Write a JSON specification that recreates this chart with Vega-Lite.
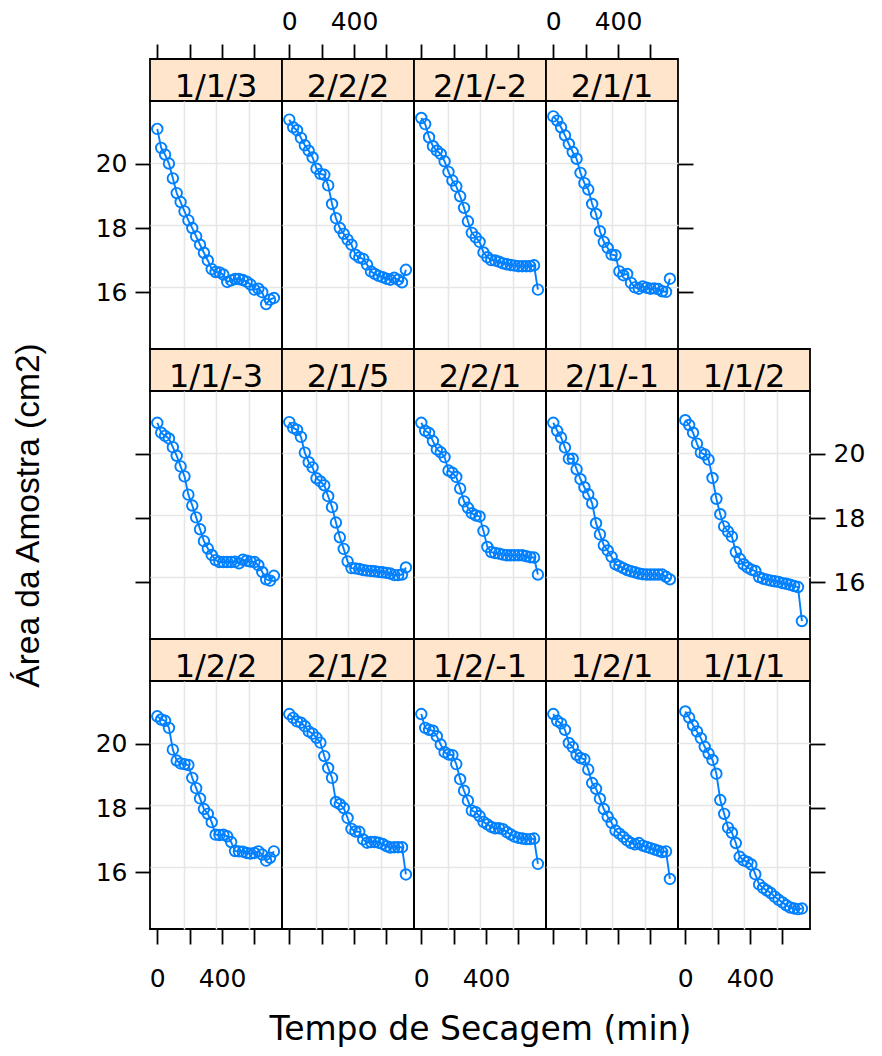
{
"$schema": "https://vega.github.io/schema/vega-lite/v6.json",
"padding": {"left": 10, "top": 8, "right": 5, "bottom": 5},
"background": "white",
"config": {
  "font": "DejaVu Sans",
  "view": {"stroke": "black", "strokeWidth": 1.8},
  "axis": {"domain": false, "grid": false, "tickColor": "black", "tickWidth": 1.8, "tickSize": 15, "labelFont": "DejaVu Sans", "labelFontSize": 25, "labelColor": "black", "labelFlush": false, "labelOverlap": false, "labelBound": false, "titleFont": "DejaVu Sans", "titleFontWeight": "normal", "titleColor": "black"},
  "line": {"color": "#0080ff", "strokeWidth": 1.9},
  "point": {"color": "#0080ff", "shape": "circle", "filled": false, "size": 110, "strokeWidth": 1.9, "opacity": 1}
},
"datasets": {
"paineis": [{"Amostra":"1/1/3"},{"Amostra":"2/2/2"},{"Amostra":"2/1/-2"},{"Amostra":"2/1/1"},{"Amostra":"1/1/-3"},{"Amostra":"2/1/5"},{"Amostra":"2/2/1"},{"Amostra":"2/1/-1"},{"Amostra":"1/1/2"},{"Amostra":"1/2/2"},{"Amostra":"2/1/2"},{"Amostra":"1/2/-1"},{"Amostra":"1/2/1"},{"Amostra":"1/1/1"}],
"medidas": [
{"Amostra":"1/1/3","Tempo":0,"Area":21.09},{"Amostra":"1/1/3","Tempo":24,"Area":20.50},{"Amostra":"1/1/3","Tempo":48,"Area":20.29},{"Amostra":"1/1/3","Tempo":72,"Area":20.01},{"Amostra":"1/1/3","Tempo":96,"Area":19.55},{"Amostra":"1/1/3","Tempo":120,"Area":19.09},{"Amostra":"1/1/3","Tempo":144,"Area":18.81},{"Amostra":"1/1/3","Tempo":168,"Area":18.52},{"Amostra":"1/1/3","Tempo":192,"Area":18.24},{"Amostra":"1/1/3","Tempo":216,"Area":18.00},{"Amostra":"1/1/3","Tempo":240,"Area":17.74},{"Amostra":"1/1/3","Tempo":264,"Area":17.48},{"Amostra":"1/1/3","Tempo":288,"Area":17.23},{"Amostra":"1/1/3","Tempo":312,"Area":16.99},{"Amostra":"1/1/3","Tempo":336,"Area":16.72},{"Amostra":"1/1/3","Tempo":360,"Area":16.63},{"Amostra":"1/1/3","Tempo":384,"Area":16.62},{"Amostra":"1/1/3","Tempo":408,"Area":16.55},{"Amostra":"1/1/3","Tempo":432,"Area":16.32},{"Amostra":"1/1/3","Tempo":456,"Area":16.37},{"Amostra":"1/1/3","Tempo":480,"Area":16.41},{"Amostra":"1/1/3","Tempo":504,"Area":16.41},{"Amostra":"1/1/3","Tempo":528,"Area":16.38},{"Amostra":"1/1/3","Tempo":552,"Area":16.33},{"Amostra":"1/1/3","Tempo":576,"Area":16.24},{"Amostra":"1/1/3","Tempo":600,"Area":16.08},{"Amostra":"1/1/3","Tempo":624,"Area":16.11},{"Amostra":"1/1/3","Tempo":648,"Area":16.00},{"Amostra":"1/1/3","Tempo":672,"Area":15.63},{"Amostra":"1/1/3","Tempo":696,"Area":15.77},{"Amostra":"1/1/3","Tempo":720,"Area":15.82},
{"Amostra":"2/2/2","Tempo":0,"Area":21.38},{"Amostra":"2/2/2","Tempo":24,"Area":21.14},{"Amostra":"2/2/2","Tempo":48,"Area":21.05},{"Amostra":"2/2/2","Tempo":72,"Area":20.81},{"Amostra":"2/2/2","Tempo":96,"Area":20.58},{"Amostra":"2/2/2","Tempo":120,"Area":20.41},{"Amostra":"2/2/2","Tempo":144,"Area":20.20},{"Amostra":"2/2/2","Tempo":168,"Area":19.85},{"Amostra":"2/2/2","Tempo":192,"Area":19.69},{"Amostra":"2/2/2","Tempo":216,"Area":19.66},{"Amostra":"2/2/2","Tempo":240,"Area":19.33},{"Amostra":"2/2/2","Tempo":264,"Area":18.75},{"Amostra":"2/2/2","Tempo":288,"Area":18.31},{"Amostra":"2/2/2","Tempo":312,"Area":18.00},{"Amostra":"2/2/2","Tempo":336,"Area":17.82},{"Amostra":"2/2/2","Tempo":360,"Area":17.64},{"Amostra":"2/2/2","Tempo":384,"Area":17.48},{"Amostra":"2/2/2","Tempo":408,"Area":17.17},{"Amostra":"2/2/2","Tempo":432,"Area":17.08},{"Amostra":"2/2/2","Tempo":456,"Area":17.04},{"Amostra":"2/2/2","Tempo":480,"Area":16.86},{"Amostra":"2/2/2","Tempo":504,"Area":16.65},{"Amostra":"2/2/2","Tempo":528,"Area":16.57},{"Amostra":"2/2/2","Tempo":552,"Area":16.51},{"Amostra":"2/2/2","Tempo":576,"Area":16.47},{"Amostra":"2/2/2","Tempo":600,"Area":16.42},{"Amostra":"2/2/2","Tempo":624,"Area":16.39},{"Amostra":"2/2/2","Tempo":648,"Area":16.45},{"Amostra":"2/2/2","Tempo":672,"Area":16.39},{"Amostra":"2/2/2","Tempo":696,"Area":16.31},{"Amostra":"2/2/2","Tempo":720,"Area":16.70},
{"Amostra":"2/1/-2","Tempo":0,"Area":21.43},{"Amostra":"2/1/-2","Tempo":24,"Area":21.24},{"Amostra":"2/1/-2","Tempo":48,"Area":20.83},{"Amostra":"2/1/-2","Tempo":72,"Area":20.55},{"Amostra":"2/1/-2","Tempo":96,"Area":20.41},{"Amostra":"2/1/-2","Tempo":120,"Area":20.31},{"Amostra":"2/1/-2","Tempo":144,"Area":20.08},{"Amostra":"2/1/-2","Tempo":168,"Area":19.75},{"Amostra":"2/1/-2","Tempo":192,"Area":19.48},{"Amostra":"2/1/-2","Tempo":216,"Area":19.30},{"Amostra":"2/1/-2","Tempo":240,"Area":18.99},{"Amostra":"2/1/-2","Tempo":264,"Area":18.63},{"Amostra":"2/1/-2","Tempo":288,"Area":18.21},{"Amostra":"2/1/-2","Tempo":312,"Area":17.85},{"Amostra":"2/1/-2","Tempo":336,"Area":17.71},{"Amostra":"2/1/-2","Tempo":360,"Area":17.57},{"Amostra":"2/1/-2","Tempo":384,"Area":17.24},{"Amostra":"2/1/-2","Tempo":408,"Area":17.09},{"Amostra":"2/1/-2","Tempo":432,"Area":17.00},{"Amostra":"2/1/-2","Tempo":456,"Area":16.99},{"Amostra":"2/1/-2","Tempo":480,"Area":16.95},{"Amostra":"2/1/-2","Tempo":504,"Area":16.90},{"Amostra":"2/1/-2","Tempo":528,"Area":16.87},{"Amostra":"2/1/-2","Tempo":552,"Area":16.85},{"Amostra":"2/1/-2","Tempo":576,"Area":16.83},{"Amostra":"2/1/-2","Tempo":600,"Area":16.81},{"Amostra":"2/1/-2","Tempo":624,"Area":16.81},{"Amostra":"2/1/-2","Tempo":648,"Area":16.81},{"Amostra":"2/1/-2","Tempo":672,"Area":16.81},{"Amostra":"2/1/-2","Tempo":696,"Area":16.84},{"Amostra":"2/1/-2","Tempo":720,"Area":16.08},
{"Amostra":"2/1/1","Tempo":0,"Area":21.48},{"Amostra":"2/1/1","Tempo":24,"Area":21.35},{"Amostra":"2/1/1","Tempo":48,"Area":21.14},{"Amostra":"2/1/1","Tempo":72,"Area":20.89},{"Amostra":"2/1/1","Tempo":96,"Area":20.62},{"Amostra":"2/1/1","Tempo":120,"Area":20.37},{"Amostra":"2/1/1","Tempo":144,"Area":20.16},{"Amostra":"2/1/1","Tempo":168,"Area":19.72},{"Amostra":"2/1/1","Tempo":192,"Area":19.40},{"Amostra":"2/1/1","Tempo":216,"Area":19.20},{"Amostra":"2/1/1","Tempo":240,"Area":18.75},{"Amostra":"2/1/1","Tempo":264,"Area":18.44},{"Amostra":"2/1/1","Tempo":288,"Area":17.90},{"Amostra":"2/1/1","Tempo":312,"Area":17.57},{"Amostra":"2/1/1","Tempo":336,"Area":17.38},{"Amostra":"2/1/1","Tempo":360,"Area":17.17},{"Amostra":"2/1/1","Tempo":384,"Area":17.15},{"Amostra":"2/1/1","Tempo":408,"Area":16.65},{"Amostra":"2/1/1","Tempo":432,"Area":16.53},{"Amostra":"2/1/1","Tempo":456,"Area":16.57},{"Amostra":"2/1/1","Tempo":480,"Area":16.29},{"Amostra":"2/1/1","Tempo":504,"Area":16.15},{"Amostra":"2/1/1","Tempo":528,"Area":16.11},{"Amostra":"2/1/1","Tempo":552,"Area":16.18},{"Amostra":"2/1/1","Tempo":576,"Area":16.14},{"Amostra":"2/1/1","Tempo":600,"Area":16.11},{"Amostra":"2/1/1","Tempo":624,"Area":16.12},{"Amostra":"2/1/1","Tempo":648,"Area":16.10},{"Amostra":"2/1/1","Tempo":672,"Area":16.03},{"Amostra":"2/1/1","Tempo":696,"Area":16.01},{"Amostra":"2/1/1","Tempo":720,"Area":16.42},
{"Amostra":"1/1/-3","Tempo":0,"Area":20.97},{"Amostra":"1/1/-3","Tempo":24,"Area":20.66},{"Amostra":"1/1/-3","Tempo":48,"Area":20.56},{"Amostra":"1/1/-3","Tempo":72,"Area":20.48},{"Amostra":"1/1/-3","Tempo":96,"Area":20.21},{"Amostra":"1/1/-3","Tempo":120,"Area":19.94},{"Amostra":"1/1/-3","Tempo":144,"Area":19.61},{"Amostra":"1/1/-3","Tempo":168,"Area":19.30},{"Amostra":"1/1/-3","Tempo":192,"Area":18.73},{"Amostra":"1/1/-3","Tempo":216,"Area":18.39},{"Amostra":"1/1/-3","Tempo":240,"Area":18.02},{"Amostra":"1/1/-3","Tempo":264,"Area":17.65},{"Amostra":"1/1/-3","Tempo":288,"Area":17.28},{"Amostra":"1/1/-3","Tempo":312,"Area":17.05},{"Amostra":"1/1/-3","Tempo":336,"Area":16.85},{"Amostra":"1/1/-3","Tempo":360,"Area":16.69},{"Amostra":"1/1/-3","Tempo":384,"Area":16.63},{"Amostra":"1/1/-3","Tempo":408,"Area":16.63},{"Amostra":"1/1/-3","Tempo":432,"Area":16.63},{"Amostra":"1/1/-3","Tempo":456,"Area":16.63},{"Amostra":"1/1/-3","Tempo":480,"Area":16.64},{"Amostra":"1/1/-3","Tempo":504,"Area":16.59},{"Amostra":"1/1/-3","Tempo":528,"Area":16.70},{"Amostra":"1/1/-3","Tempo":552,"Area":16.67},{"Amostra":"1/1/-3","Tempo":576,"Area":16.64},{"Amostra":"1/1/-3","Tempo":600,"Area":16.63},{"Amostra":"1/1/-3","Tempo":624,"Area":16.53},{"Amostra":"1/1/-3","Tempo":648,"Area":16.32},{"Amostra":"1/1/-3","Tempo":672,"Area":16.09},{"Amostra":"1/1/-3","Tempo":696,"Area":16.05},{"Amostra":"1/1/-3","Tempo":720,"Area":16.20},
{"Amostra":"2/1/5","Tempo":0,"Area":20.99},{"Amostra":"2/1/5","Tempo":24,"Area":20.81},{"Amostra":"2/1/5","Tempo":48,"Area":20.75},{"Amostra":"2/1/5","Tempo":72,"Area":20.53},{"Amostra":"2/1/5","Tempo":96,"Area":20.04},{"Amostra":"2/1/5","Tempo":120,"Area":19.74},{"Amostra":"2/1/5","Tempo":144,"Area":19.58},{"Amostra":"2/1/5","Tempo":168,"Area":19.24},{"Amostra":"2/1/5","Tempo":192,"Area":19.14},{"Amostra":"2/1/5","Tempo":216,"Area":19.02},{"Amostra":"2/1/5","Tempo":240,"Area":18.68},{"Amostra":"2/1/5","Tempo":264,"Area":18.34},{"Amostra":"2/1/5","Tempo":288,"Area":17.86},{"Amostra":"2/1/5","Tempo":312,"Area":17.40},{"Amostra":"2/1/5","Tempo":336,"Area":17.04},{"Amostra":"2/1/5","Tempo":360,"Area":16.65},{"Amostra":"2/1/5","Tempo":384,"Area":16.44},{"Amostra":"2/1/5","Tempo":408,"Area":16.43},{"Amostra":"2/1/5","Tempo":432,"Area":16.41},{"Amostra":"2/1/5","Tempo":456,"Area":16.38},{"Amostra":"2/1/5","Tempo":480,"Area":16.36},{"Amostra":"2/1/5","Tempo":504,"Area":16.35},{"Amostra":"2/1/5","Tempo":528,"Area":16.34},{"Amostra":"2/1/5","Tempo":552,"Area":16.32},{"Amostra":"2/1/5","Tempo":576,"Area":16.31},{"Amostra":"2/1/5","Tempo":600,"Area":16.29},{"Amostra":"2/1/5","Tempo":624,"Area":16.27},{"Amostra":"2/1/5","Tempo":648,"Area":16.22},{"Amostra":"2/1/5","Tempo":672,"Area":16.22},{"Amostra":"2/1/5","Tempo":696,"Area":16.24},{"Amostra":"2/1/5","Tempo":720,"Area":16.46},
{"Amostra":"2/2/1","Tempo":0,"Area":20.97},{"Amostra":"2/2/1","Tempo":24,"Area":20.72},{"Amostra":"2/2/1","Tempo":48,"Area":20.65},{"Amostra":"2/2/1","Tempo":72,"Area":20.40},{"Amostra":"2/2/1","Tempo":96,"Area":20.14},{"Amostra":"2/2/1","Tempo":120,"Area":20.05},{"Amostra":"2/2/1","Tempo":144,"Area":19.90},{"Amostra":"2/2/1","Tempo":168,"Area":19.48},{"Amostra":"2/2/1","Tempo":192,"Area":19.41},{"Amostra":"2/2/1","Tempo":216,"Area":19.28},{"Amostra":"2/2/1","Tempo":240,"Area":18.92},{"Amostra":"2/2/1","Tempo":264,"Area":18.52},{"Amostra":"2/2/1","Tempo":288,"Area":18.32},{"Amostra":"2/2/1","Tempo":312,"Area":18.15},{"Amostra":"2/2/1","Tempo":336,"Area":18.08},{"Amostra":"2/2/1","Tempo":360,"Area":18.05},{"Amostra":"2/2/1","Tempo":384,"Area":17.60},{"Amostra":"2/2/1","Tempo":408,"Area":17.10},{"Amostra":"2/2/1","Tempo":432,"Area":16.94},{"Amostra":"2/2/1","Tempo":456,"Area":16.91},{"Amostra":"2/2/1","Tempo":480,"Area":16.89},{"Amostra":"2/2/1","Tempo":504,"Area":16.86},{"Amostra":"2/2/1","Tempo":528,"Area":16.84},{"Amostra":"2/2/1","Tempo":552,"Area":16.84},{"Amostra":"2/2/1","Tempo":576,"Area":16.84},{"Amostra":"2/2/1","Tempo":600,"Area":16.84},{"Amostra":"2/2/1","Tempo":624,"Area":16.84},{"Amostra":"2/2/1","Tempo":648,"Area":16.81},{"Amostra":"2/2/1","Tempo":672,"Area":16.78},{"Amostra":"2/2/1","Tempo":696,"Area":16.77},{"Amostra":"2/2/1","Tempo":720,"Area":16.24},
{"Amostra":"2/1/-1","Tempo":0,"Area":20.97},{"Amostra":"2/1/-1","Tempo":24,"Area":20.72},{"Amostra":"2/1/-1","Tempo":48,"Area":20.51},{"Amostra":"2/1/-1","Tempo":72,"Area":20.20},{"Amostra":"2/1/-1","Tempo":96,"Area":19.85},{"Amostra":"2/1/-1","Tempo":120,"Area":19.85},{"Amostra":"2/1/-1","Tempo":144,"Area":19.52},{"Amostra":"2/1/-1","Tempo":168,"Area":19.21},{"Amostra":"2/1/-1","Tempo":192,"Area":18.96},{"Amostra":"2/1/-1","Tempo":216,"Area":18.74},{"Amostra":"2/1/-1","Tempo":240,"Area":18.46},{"Amostra":"2/1/-1","Tempo":264,"Area":17.84},{"Amostra":"2/1/-1","Tempo":288,"Area":17.49},{"Amostra":"2/1/-1","Tempo":312,"Area":17.15},{"Amostra":"2/1/-1","Tempo":336,"Area":16.99},{"Amostra":"2/1/-1","Tempo":360,"Area":16.79},{"Amostra":"2/1/-1","Tempo":384,"Area":16.56},{"Amostra":"2/1/-1","Tempo":408,"Area":16.50},{"Amostra":"2/1/-1","Tempo":432,"Area":16.44},{"Amostra":"2/1/-1","Tempo":456,"Area":16.38},{"Amostra":"2/1/-1","Tempo":480,"Area":16.34},{"Amostra":"2/1/-1","Tempo":504,"Area":16.31},{"Amostra":"2/1/-1","Tempo":528,"Area":16.27},{"Amostra":"2/1/-1","Tempo":552,"Area":16.25},{"Amostra":"2/1/-1","Tempo":576,"Area":16.24},{"Amostra":"2/1/-1","Tempo":600,"Area":16.24},{"Amostra":"2/1/-1","Tempo":624,"Area":16.24},{"Amostra":"2/1/-1","Tempo":648,"Area":16.24},{"Amostra":"2/1/-1","Tempo":672,"Area":16.24},{"Amostra":"2/1/-1","Tempo":696,"Area":16.17},{"Amostra":"2/1/-1","Tempo":720,"Area":16.09},
{"Amostra":"1/1/2","Tempo":0,"Area":21.05},{"Amostra":"1/1/2","Tempo":24,"Area":20.90},{"Amostra":"1/1/2","Tempo":48,"Area":20.66},{"Amostra":"1/1/2","Tempo":72,"Area":20.32},{"Amostra":"1/1/2","Tempo":96,"Area":20.04},{"Amostra":"1/1/2","Tempo":120,"Area":19.98},{"Amostra":"1/1/2","Tempo":144,"Area":19.82},{"Amostra":"1/1/2","Tempo":168,"Area":19.25},{"Amostra":"1/1/2","Tempo":192,"Area":18.60},{"Amostra":"1/1/2","Tempo":216,"Area":18.12},{"Amostra":"1/1/2","Tempo":240,"Area":17.74},{"Amostra":"1/1/2","Tempo":264,"Area":17.58},{"Amostra":"1/1/2","Tempo":288,"Area":17.42},{"Amostra":"1/1/2","Tempo":312,"Area":16.94},{"Amostra":"1/1/2","Tempo":336,"Area":16.73},{"Amostra":"1/1/2","Tempo":360,"Area":16.56},{"Amostra":"1/1/2","Tempo":384,"Area":16.46},{"Amostra":"1/1/2","Tempo":408,"Area":16.39},{"Amostra":"1/1/2","Tempo":432,"Area":16.35},{"Amostra":"1/1/2","Tempo":456,"Area":16.16},{"Amostra":"1/1/2","Tempo":480,"Area":16.11},{"Amostra":"1/1/2","Tempo":504,"Area":16.08},{"Amostra":"1/1/2","Tempo":528,"Area":16.05},{"Amostra":"1/1/2","Tempo":552,"Area":16.03},{"Amostra":"1/1/2","Tempo":576,"Area":16.01},{"Amostra":"1/1/2","Tempo":600,"Area":15.97},{"Amostra":"1/1/2","Tempo":624,"Area":15.95},{"Amostra":"1/1/2","Tempo":648,"Area":15.92},{"Amostra":"1/1/2","Tempo":672,"Area":15.88},{"Amostra":"1/1/2","Tempo":696,"Area":15.85},{"Amostra":"1/1/2","Tempo":720,"Area":14.79},
{"Amostra":"1/2/2","Tempo":0,"Area":20.86},{"Amostra":"1/2/2","Tempo":24,"Area":20.76},{"Amostra":"1/2/2","Tempo":48,"Area":20.72},{"Amostra":"1/2/2","Tempo":72,"Area":20.50},{"Amostra":"1/2/2","Tempo":96,"Area":19.82},{"Amostra":"1/2/2","Tempo":120,"Area":19.48},{"Amostra":"1/2/2","Tempo":144,"Area":19.39},{"Amostra":"1/2/2","Tempo":168,"Area":19.37},{"Amostra":"1/2/2","Tempo":192,"Area":19.34},{"Amostra":"1/2/2","Tempo":216,"Area":18.94},{"Amostra":"1/2/2","Tempo":240,"Area":18.62},{"Amostra":"1/2/2","Tempo":264,"Area":18.30},{"Amostra":"1/2/2","Tempo":288,"Area":17.97},{"Amostra":"1/2/2","Tempo":312,"Area":17.82},{"Amostra":"1/2/2","Tempo":336,"Area":17.56},{"Amostra":"1/2/2","Tempo":360,"Area":17.17},{"Amostra":"1/2/2","Tempo":384,"Area":17.16},{"Amostra":"1/2/2","Tempo":408,"Area":17.17},{"Amostra":"1/2/2","Tempo":432,"Area":17.12},{"Amostra":"1/2/2","Tempo":456,"Area":16.94},{"Amostra":"1/2/2","Tempo":480,"Area":16.66},{"Amostra":"1/2/2","Tempo":504,"Area":16.65},{"Amostra":"1/2/2","Tempo":528,"Area":16.64},{"Amostra":"1/2/2","Tempo":552,"Area":16.60},{"Amostra":"1/2/2","Tempo":576,"Area":16.58},{"Amostra":"1/2/2","Tempo":600,"Area":16.60},{"Amostra":"1/2/2","Tempo":624,"Area":16.65},{"Amostra":"1/2/2","Tempo":648,"Area":16.55},{"Amostra":"1/2/2","Tempo":672,"Area":16.36},{"Amostra":"1/2/2","Tempo":696,"Area":16.45},{"Amostra":"1/2/2","Tempo":720,"Area":16.65},
{"Amostra":"2/1/2","Tempo":0,"Area":20.93},{"Amostra":"2/1/2","Tempo":24,"Area":20.81},{"Amostra":"2/1/2","Tempo":48,"Area":20.70},{"Amostra":"2/1/2","Tempo":72,"Area":20.66},{"Amostra":"2/1/2","Tempo":96,"Area":20.55},{"Amostra":"2/1/2","Tempo":120,"Area":20.39},{"Amostra":"2/1/2","Tempo":144,"Area":20.32},{"Amostra":"2/1/2","Tempo":168,"Area":20.19},{"Amostra":"2/1/2","Tempo":192,"Area":20.04},{"Amostra":"2/1/2","Tempo":216,"Area":19.62},{"Amostra":"2/1/2","Tempo":240,"Area":19.25},{"Amostra":"2/1/2","Tempo":264,"Area":18.94},{"Amostra":"2/1/2","Tempo":288,"Area":18.19},{"Amostra":"2/1/2","Tempo":312,"Area":18.12},{"Amostra":"2/1/2","Tempo":336,"Area":18.00},{"Amostra":"2/1/2","Tempo":360,"Area":17.69},{"Amostra":"2/1/2","Tempo":384,"Area":17.35},{"Amostra":"2/1/2","Tempo":408,"Area":17.27},{"Amostra":"2/1/2","Tempo":432,"Area":17.26},{"Amostra":"2/1/2","Tempo":456,"Area":17.02},{"Amostra":"2/1/2","Tempo":480,"Area":16.92},{"Amostra":"2/1/2","Tempo":504,"Area":16.94},{"Amostra":"2/1/2","Tempo":528,"Area":16.94},{"Amostra":"2/1/2","Tempo":552,"Area":16.92},{"Amostra":"2/1/2","Tempo":576,"Area":16.88},{"Amostra":"2/1/2","Tempo":600,"Area":16.81},{"Amostra":"2/1/2","Tempo":624,"Area":16.77},{"Amostra":"2/1/2","Tempo":648,"Area":16.78},{"Amostra":"2/1/2","Tempo":672,"Area":16.78},{"Amostra":"2/1/2","Tempo":696,"Area":16.78},{"Amostra":"2/1/2","Tempo":720,"Area":15.93},
{"Amostra":"1/2/-1","Tempo":0,"Area":20.93},{"Amostra":"1/2/-1","Tempo":24,"Area":20.50},{"Amostra":"1/2/-1","Tempo":48,"Area":20.44},{"Amostra":"1/2/-1","Tempo":72,"Area":20.41},{"Amostra":"1/2/-1","Tempo":96,"Area":20.24},{"Amostra":"1/2/-1","Tempo":120,"Area":19.98},{"Amostra":"1/2/-1","Tempo":144,"Area":19.74},{"Amostra":"1/2/-1","Tempo":168,"Area":19.67},{"Amostra":"1/2/-1","Tempo":192,"Area":19.65},{"Amostra":"1/2/-1","Tempo":216,"Area":19.37},{"Amostra":"1/2/-1","Tempo":240,"Area":18.90},{"Amostra":"1/2/-1","Tempo":264,"Area":18.54},{"Amostra":"1/2/-1","Tempo":288,"Area":18.23},{"Amostra":"1/2/-1","Tempo":312,"Area":17.92},{"Amostra":"1/2/-1","Tempo":336,"Area":17.87},{"Amostra":"1/2/-1","Tempo":360,"Area":17.75},{"Amostra":"1/2/-1","Tempo":384,"Area":17.57},{"Amostra":"1/2/-1","Tempo":408,"Area":17.49},{"Amostra":"1/2/-1","Tempo":432,"Area":17.41},{"Amostra":"1/2/-1","Tempo":456,"Area":17.37},{"Amostra":"1/2/-1","Tempo":480,"Area":17.37},{"Amostra":"1/2/-1","Tempo":504,"Area":17.34},{"Amostra":"1/2/-1","Tempo":528,"Area":17.25},{"Amostra":"1/2/-1","Tempo":552,"Area":17.18},{"Amostra":"1/2/-1","Tempo":576,"Area":17.11},{"Amostra":"1/2/-1","Tempo":600,"Area":17.07},{"Amostra":"1/2/-1","Tempo":624,"Area":17.05},{"Amostra":"1/2/-1","Tempo":648,"Area":17.03},{"Amostra":"1/2/-1","Tempo":672,"Area":17.03},{"Amostra":"1/2/-1","Tempo":696,"Area":17.05},{"Amostra":"1/2/-1","Tempo":720,"Area":16.26},
{"Amostra":"1/2/1","Tempo":0,"Area":20.93},{"Amostra":"1/2/1","Tempo":24,"Area":20.72},{"Amostra":"1/2/1","Tempo":48,"Area":20.64},{"Amostra":"1/2/1","Tempo":72,"Area":20.44},{"Amostra":"1/2/1","Tempo":96,"Area":20.03},{"Amostra":"1/2/1","Tempo":120,"Area":19.90},{"Amostra":"1/2/1","Tempo":144,"Area":19.66},{"Amostra":"1/2/1","Tempo":168,"Area":19.56},{"Amostra":"1/2/1","Tempo":192,"Area":19.52},{"Amostra":"1/2/1","Tempo":216,"Area":19.20},{"Amostra":"1/2/1","Tempo":240,"Area":18.78},{"Amostra":"1/2/1","Tempo":264,"Area":18.60},{"Amostra":"1/2/1","Tempo":288,"Area":18.29},{"Amostra":"1/2/1","Tempo":312,"Area":17.97},{"Amostra":"1/2/1","Tempo":336,"Area":17.73},{"Amostra":"1/2/1","Tempo":360,"Area":17.54},{"Amostra":"1/2/1","Tempo":384,"Area":17.30},{"Amostra":"1/2/1","Tempo":408,"Area":17.20},{"Amostra":"1/2/1","Tempo":432,"Area":17.10},{"Amostra":"1/2/1","Tempo":456,"Area":16.99},{"Amostra":"1/2/1","Tempo":480,"Area":16.91},{"Amostra":"1/2/1","Tempo":504,"Area":16.87},{"Amostra":"1/2/1","Tempo":528,"Area":16.91},{"Amostra":"1/2/1","Tempo":552,"Area":16.83},{"Amostra":"1/2/1","Tempo":576,"Area":16.79},{"Amostra":"1/2/1","Tempo":600,"Area":16.75},{"Amostra":"1/2/1","Tempo":624,"Area":16.71},{"Amostra":"1/2/1","Tempo":648,"Area":16.67},{"Amostra":"1/2/1","Tempo":672,"Area":16.63},{"Amostra":"1/2/1","Tempo":696,"Area":16.65},{"Amostra":"1/2/1","Tempo":720,"Area":15.79},
{"Amostra":"1/1/1","Tempo":0,"Area":21.01},{"Amostra":"1/1/1","Tempo":24,"Area":20.82},{"Amostra":"1/1/1","Tempo":48,"Area":20.58},{"Amostra":"1/1/1","Tempo":72,"Area":20.39},{"Amostra":"1/1/1","Tempo":96,"Area":20.18},{"Amostra":"1/1/1","Tempo":120,"Area":19.91},{"Amostra":"1/1/1","Tempo":144,"Area":19.70},{"Amostra":"1/1/1","Tempo":168,"Area":19.50},{"Amostra":"1/1/1","Tempo":192,"Area":19.07},{"Amostra":"1/1/1","Tempo":216,"Area":18.25},{"Amostra":"1/1/1","Tempo":240,"Area":17.82},{"Amostra":"1/1/1","Tempo":264,"Area":17.39},{"Amostra":"1/1/1","Tempo":288,"Area":17.23},{"Amostra":"1/1/1","Tempo":312,"Area":16.91},{"Amostra":"1/1/1","Tempo":336,"Area":16.48},{"Amostra":"1/1/1","Tempo":360,"Area":16.37},{"Amostra":"1/1/1","Tempo":384,"Area":16.32},{"Amostra":"1/1/1","Tempo":408,"Area":16.24},{"Amostra":"1/1/1","Tempo":432,"Area":15.94},{"Amostra":"1/1/1","Tempo":456,"Area":15.62},{"Amostra":"1/1/1","Tempo":480,"Area":15.51},{"Amostra":"1/1/1","Tempo":504,"Area":15.43},{"Amostra":"1/1/1","Tempo":528,"Area":15.35},{"Amostra":"1/1/1","Tempo":552,"Area":15.24},{"Amostra":"1/1/1","Tempo":576,"Area":15.14},{"Amostra":"1/1/1","Tempo":600,"Area":15.06},{"Amostra":"1/1/1","Tempo":624,"Area":14.97},{"Amostra":"1/1/1","Tempo":648,"Area":14.90},{"Amostra":"1/1/1","Tempo":672,"Area":14.87},{"Amostra":"1/1/1","Tempo":696,"Area":14.85},{"Amostra":"1/1/1","Tempo":720,"Area":14.87}
]
},
"data": {"name": "medidas"},
"columns": 5,
"spacing": 0,
"bounds": "flush",
"concat": [
 {"data":{"name":"paineis"},"transform":[{"filter":{"field":"Amostra","equal":"1/1/3"}}],"width":132,"height":42,"view":{"fill":"#ffe5cc","stroke":"black","strokeWidth":1.8},"mark":{"type":"text","font":"DejaVu Sans","fontSize":32,"baseline":"middle","dy":7,"color":"black"},"encoding":{"text":{"field":"Amostra","type":"nominal"}}},
 {"data":{"name":"paineis"},"transform":[{"filter":{"field":"Amostra","equal":"2/2/2"}}],"width":132,"height":42,"view":{"fill":"#ffe5cc","stroke":"black","strokeWidth":1.8},"mark":{"type":"text","font":"DejaVu Sans","fontSize":32,"baseline":"middle","dy":7,"color":"black"},"encoding":{"text":{"field":"Amostra","type":"nominal"}}},
 {"data":{"name":"paineis"},"transform":[{"filter":{"field":"Amostra","equal":"2/1/-2"}}],"width":132,"height":42,"view":{"fill":"#ffe5cc","stroke":"black","strokeWidth":1.8},"mark":{"type":"text","font":"DejaVu Sans","fontSize":32,"baseline":"middle","dy":7,"color":"black"},"encoding":{"text":{"field":"Amostra","type":"nominal"}}},
 {"data":{"name":"paineis"},"transform":[{"filter":{"field":"Amostra","equal":"2/1/1"}}],"width":132,"height":42,"view":{"fill":"#ffe5cc","stroke":"black","strokeWidth":1.8},"mark":{"type":"text","font":"DejaVu Sans","fontSize":32,"baseline":"middle","dy":7,"color":"black"},"encoding":{"text":{"field":"Amostra","type":"nominal"}}},
 {"data":{"name":"paineis"},"transform":[{"filter":"false"}],"width":132,"height":42,"view":{"stroke":null},"mark":{"type":"text"},"encoding":{"text":{"field":"Amostra","type":"nominal"}}},

 {"width":132,"height":248,"transform":[{"filter":{"field":"Amostra","equal":"1/1/3"}}],
  "layer":[
   {"mark":{"type":"line"},"encoding":{"x":{"field":"Tempo","type":"quantitative","scale":{"domain":[-45,770],"nice":false,"zero":false},"axis":{"orient":"bottom","grid":true,"values":[165,365,565],"ticks":false,"labels":false,"domain":false,"title":null,"gridColor":"#e6e6e6","gridWidth":1.6}},"y":{"field":"Area","type":"quantitative","scale":{"domain":[14.23,21.96],"nice":false,"zero":false},"axis":{"orient":"left","grid":true,"values":[16.15,18.08,20.02],"ticks":false,"labels":false,"domain":false,"title":null,"gridColor":"#e6e6e6","gridWidth":1.6}}}},
   {"mark":{"type":"point"},"encoding":{"x":{"field":"Tempo","type":"quantitative","scale":{"domain":[-45,770],"nice":false,"zero":false},"axis":{"orient":"top","offset":42,"values":[0,200,400,600],"labels":false,"title":null}},"y":{"field":"Area","type":"quantitative","scale":{"domain":[14.23,21.96],"nice":false,"zero":false},"axis":{"orient":"left","values":[16,18,20],"labelPadding":8,"title":null}}}}
  ],"resolve":{"axis":{"x":"independent","y":"independent"}}},
 {"width":132,"height":248,"transform":[{"filter":{"field":"Amostra","equal":"2/2/2"}}],
  "layer":[
   {"mark":{"type":"line"},"encoding":{"x":{"field":"Tempo","type":"quantitative","scale":{"domain":[-45,770],"nice":false,"zero":false},"axis":{"orient":"bottom","grid":true,"values":[165,365,565],"ticks":false,"labels":false,"domain":false,"title":null,"gridColor":"#e6e6e6","gridWidth":1.6}},"y":{"field":"Area","type":"quantitative","scale":{"domain":[14.23,21.96],"nice":false,"zero":false},"axis":{"orient":"left","grid":true,"values":[16.15,18.08,20.02],"ticks":false,"labels":false,"domain":false,"title":null,"gridColor":"#e6e6e6","gridWidth":1.6}}}},
   {"mark":{"type":"point"},"encoding":{"x":{"field":"Tempo","type":"quantitative","scale":{"domain":[-45,770],"nice":false,"zero":false},"axis":{"orient":"top","offset":42,"values":[0,200,400,600],"labelExpr":"datum.value % 400 === 0 ? datum.label : ''","labelPadding":10,"title":null}},"y":{"field":"Area","type":"quantitative","scale":{"domain":[14.23,21.96],"nice":false,"zero":false},"axis":null}}}
  ],"resolve":{"axis":{"x":"independent","y":"independent"}}},
 {"width":132,"height":248,"transform":[{"filter":{"field":"Amostra","equal":"2/1/-2"}}],
  "layer":[
   {"mark":{"type":"line"},"encoding":{"x":{"field":"Tempo","type":"quantitative","scale":{"domain":[-45,770],"nice":false,"zero":false},"axis":{"orient":"bottom","grid":true,"values":[165,365,565],"ticks":false,"labels":false,"domain":false,"title":null,"gridColor":"#e6e6e6","gridWidth":1.6}},"y":{"field":"Area","type":"quantitative","scale":{"domain":[14.23,21.96],"nice":false,"zero":false},"axis":{"orient":"left","grid":true,"values":[16.15,18.08,20.02],"ticks":false,"labels":false,"domain":false,"title":null,"gridColor":"#e6e6e6","gridWidth":1.6}}}},
   {"mark":{"type":"point"},"encoding":{"x":{"field":"Tempo","type":"quantitative","scale":{"domain":[-45,770],"nice":false,"zero":false},"axis":{"orient":"top","offset":42,"values":[0,200,400,600],"labels":false,"title":null}},"y":{"field":"Area","type":"quantitative","scale":{"domain":[14.23,21.96],"nice":false,"zero":false},"axis":null}}}
  ],"resolve":{"axis":{"x":"independent","y":"independent"}}},
 {"width":132,"height":248,"transform":[{"filter":{"field":"Amostra","equal":"2/1/1"}}],
  "layer":[
   {"mark":{"type":"line"},"encoding":{"x":{"field":"Tempo","type":"quantitative","scale":{"domain":[-45,770],"nice":false,"zero":false},"axis":{"orient":"bottom","grid":true,"values":[165,365,565],"ticks":false,"labels":false,"domain":false,"title":null,"gridColor":"#e6e6e6","gridWidth":1.6}},"y":{"field":"Area","type":"quantitative","scale":{"domain":[14.23,21.96],"nice":false,"zero":false},"axis":{"orient":"left","grid":true,"values":[16.15,18.08,20.02],"ticks":false,"labels":false,"domain":false,"title":null,"gridColor":"#e6e6e6","gridWidth":1.6}}}},
   {"mark":{"type":"point"},"encoding":{"x":{"field":"Tempo","type":"quantitative","scale":{"domain":[-45,770],"nice":false,"zero":false},"axis":{"orient":"top","offset":42,"values":[0,200,400,600],"labelExpr":"datum.value % 400 === 0 ? datum.label : ''","labelPadding":10,"title":null}},"y":{"field":"Area","type":"quantitative","scale":{"domain":[14.23,21.96],"nice":false,"zero":false},"axis":{"orient":"right","values":[16,18,20],"labels":false,"title":null}}}}
  ],"resolve":{"axis":{"x":"independent","y":"independent"}}},
 {"data":{"name":"paineis"},"transform":[{"filter":"false"}],"width":132,"height":248,"view":{"stroke":null},"mark":{"type":"text"},"encoding":{"text":{"field":"Amostra","type":"nominal"}}},

 {"data":{"name":"paineis"},"transform":[{"filter":{"field":"Amostra","equal":"1/1/-3"}}],"width":132,"height":42,"view":{"fill":"#ffe5cc","stroke":"black","strokeWidth":1.8},"mark":{"type":"text","font":"DejaVu Sans","fontSize":32,"baseline":"middle","dy":7,"color":"black"},"encoding":{"text":{"field":"Amostra","type":"nominal"}}},
 {"data":{"name":"paineis"},"transform":[{"filter":{"field":"Amostra","equal":"2/1/5"}}],"width":132,"height":42,"view":{"fill":"#ffe5cc","stroke":"black","strokeWidth":1.8},"mark":{"type":"text","font":"DejaVu Sans","fontSize":32,"baseline":"middle","dy":7,"color":"black"},"encoding":{"text":{"field":"Amostra","type":"nominal"}}},
 {"data":{"name":"paineis"},"transform":[{"filter":{"field":"Amostra","equal":"2/2/1"}}],"width":132,"height":42,"view":{"fill":"#ffe5cc","stroke":"black","strokeWidth":1.8},"mark":{"type":"text","font":"DejaVu Sans","fontSize":32,"baseline":"middle","dy":7,"color":"black"},"encoding":{"text":{"field":"Amostra","type":"nominal"}}},
 {"data":{"name":"paineis"},"transform":[{"filter":{"field":"Amostra","equal":"2/1/-1"}}],"width":132,"height":42,"view":{"fill":"#ffe5cc","stroke":"black","strokeWidth":1.8},"mark":{"type":"text","font":"DejaVu Sans","fontSize":32,"baseline":"middle","dy":7,"color":"black"},"encoding":{"text":{"field":"Amostra","type":"nominal"}}},
 {"data":{"name":"paineis"},"transform":[{"filter":{"field":"Amostra","equal":"1/1/2"}}],"width":132,"height":42,"view":{"fill":"#ffe5cc","stroke":"black","strokeWidth":1.8},"mark":{"type":"text","font":"DejaVu Sans","fontSize":32,"baseline":"middle","dy":7,"color":"black"},"encoding":{"text":{"field":"Amostra","type":"nominal"}}},

 {"width":132,"height":248,"transform":[{"filter":{"field":"Amostra","equal":"1/1/-3"}}],
  "layer":[
   {"mark":{"type":"line"},"encoding":{"x":{"field":"Tempo","type":"quantitative","scale":{"domain":[-45,770],"nice":false,"zero":false},"axis":{"orient":"bottom","grid":true,"values":[165,365,565],"ticks":false,"labels":false,"domain":false,"title":null,"gridColor":"#e6e6e6","gridWidth":1.6}},"y":{"field":"Area","type":"quantitative","scale":{"domain":[14.23,21.96],"nice":false,"zero":false},"axis":{"orient":"left","grid":true,"values":[16.15,18.08,20.02],"ticks":false,"labels":false,"domain":false,"title":null,"gridColor":"#e6e6e6","gridWidth":1.6}}}},
   {"mark":{"type":"point"},"encoding":{"x":{"field":"Tempo","type":"quantitative","scale":{"domain":[-45,770],"nice":false,"zero":false},"axis":null},"y":{"field":"Area","type":"quantitative","scale":{"domain":[14.23,21.96],"nice":false,"zero":false},"axis":{"orient":"left","values":[16,18,20],"labels":false,"title":"Área da Amostra (cm2)","titleFont":"Liberation Sans","titleFontSize":33.5,"titlePadding":89}}}}
  ],"resolve":{"axis":{"x":"independent","y":"independent"}}},
 {"width":132,"height":248,"transform":[{"filter":{"field":"Amostra","equal":"2/1/5"}}],
  "layer":[
   {"mark":{"type":"line"},"encoding":{"x":{"field":"Tempo","type":"quantitative","scale":{"domain":[-45,770],"nice":false,"zero":false},"axis":{"orient":"bottom","grid":true,"values":[165,365,565],"ticks":false,"labels":false,"domain":false,"title":null,"gridColor":"#e6e6e6","gridWidth":1.6}},"y":{"field":"Area","type":"quantitative","scale":{"domain":[14.23,21.96],"nice":false,"zero":false},"axis":{"orient":"left","grid":true,"values":[16.15,18.08,20.02],"ticks":false,"labels":false,"domain":false,"title":null,"gridColor":"#e6e6e6","gridWidth":1.6}}}},
   {"mark":{"type":"point"},"encoding":{"x":{"field":"Tempo","type":"quantitative","scale":{"domain":[-45,770],"nice":false,"zero":false},"axis":null},"y":{"field":"Area","type":"quantitative","scale":{"domain":[14.23,21.96],"nice":false,"zero":false},"axis":null}}}
  ],"resolve":{"axis":{"x":"independent","y":"independent"}}},
 {"width":132,"height":248,"transform":[{"filter":{"field":"Amostra","equal":"2/2/1"}}],
  "layer":[
   {"mark":{"type":"line"},"encoding":{"x":{"field":"Tempo","type":"quantitative","scale":{"domain":[-45,770],"nice":false,"zero":false},"axis":{"orient":"bottom","grid":true,"values":[165,365,565],"ticks":false,"labels":false,"domain":false,"title":null,"gridColor":"#e6e6e6","gridWidth":1.6}},"y":{"field":"Area","type":"quantitative","scale":{"domain":[14.23,21.96],"nice":false,"zero":false},"axis":{"orient":"left","grid":true,"values":[16.15,18.08,20.02],"ticks":false,"labels":false,"domain":false,"title":null,"gridColor":"#e6e6e6","gridWidth":1.6}}}},
   {"mark":{"type":"point"},"encoding":{"x":{"field":"Tempo","type":"quantitative","scale":{"domain":[-45,770],"nice":false,"zero":false},"axis":null},"y":{"field":"Area","type":"quantitative","scale":{"domain":[14.23,21.96],"nice":false,"zero":false},"axis":null}}}
  ],"resolve":{"axis":{"x":"independent","y":"independent"}}},
 {"width":132,"height":248,"transform":[{"filter":{"field":"Amostra","equal":"2/1/-1"}}],
  "layer":[
   {"mark":{"type":"line"},"encoding":{"x":{"field":"Tempo","type":"quantitative","scale":{"domain":[-45,770],"nice":false,"zero":false},"axis":{"orient":"bottom","grid":true,"values":[165,365,565],"ticks":false,"labels":false,"domain":false,"title":null,"gridColor":"#e6e6e6","gridWidth":1.6}},"y":{"field":"Area","type":"quantitative","scale":{"domain":[14.23,21.96],"nice":false,"zero":false},"axis":{"orient":"left","grid":true,"values":[16.15,18.08,20.02],"ticks":false,"labels":false,"domain":false,"title":null,"gridColor":"#e6e6e6","gridWidth":1.6}}}},
   {"mark":{"type":"point"},"encoding":{"x":{"field":"Tempo","type":"quantitative","scale":{"domain":[-45,770],"nice":false,"zero":false},"axis":null},"y":{"field":"Area","type":"quantitative","scale":{"domain":[14.23,21.96],"nice":false,"zero":false},"axis":null}}}
  ],"resolve":{"axis":{"x":"independent","y":"independent"}}},
 {"width":132,"height":248,"transform":[{"filter":{"field":"Amostra","equal":"1/1/2"}}],
  "layer":[
   {"mark":{"type":"line"},"encoding":{"x":{"field":"Tempo","type":"quantitative","scale":{"domain":[-45,770],"nice":false,"zero":false},"axis":{"orient":"bottom","grid":true,"values":[165,365,565],"ticks":false,"labels":false,"domain":false,"title":null,"gridColor":"#e6e6e6","gridWidth":1.6}},"y":{"field":"Area","type":"quantitative","scale":{"domain":[14.23,21.96],"nice":false,"zero":false},"axis":{"orient":"left","grid":true,"values":[16.15,18.08,20.02],"ticks":false,"labels":false,"domain":false,"title":null,"gridColor":"#e6e6e6","gridWidth":1.6}}}},
   {"mark":{"type":"point"},"encoding":{"x":{"field":"Tempo","type":"quantitative","scale":{"domain":[-45,770],"nice":false,"zero":false},"axis":null},"y":{"field":"Area","type":"quantitative","scale":{"domain":[14.23,21.96],"nice":false,"zero":false},"axis":{"orient":"right","values":[16,18,20],"labelPadding":8,"title":null}}}}
  ],"resolve":{"axis":{"x":"independent","y":"independent"}}},

 {"data":{"name":"paineis"},"transform":[{"filter":{"field":"Amostra","equal":"1/2/2"}}],"width":132,"height":42,"view":{"fill":"#ffe5cc","stroke":"black","strokeWidth":1.8},"mark":{"type":"text","font":"DejaVu Sans","fontSize":32,"baseline":"middle","dy":7,"color":"black"},"encoding":{"text":{"field":"Amostra","type":"nominal"}}},
 {"data":{"name":"paineis"},"transform":[{"filter":{"field":"Amostra","equal":"2/1/2"}}],"width":132,"height":42,"view":{"fill":"#ffe5cc","stroke":"black","strokeWidth":1.8},"mark":{"type":"text","font":"DejaVu Sans","fontSize":32,"baseline":"middle","dy":7,"color":"black"},"encoding":{"text":{"field":"Amostra","type":"nominal"}}},
 {"data":{"name":"paineis"},"transform":[{"filter":{"field":"Amostra","equal":"1/2/-1"}}],"width":132,"height":42,"view":{"fill":"#ffe5cc","stroke":"black","strokeWidth":1.8},"mark":{"type":"text","font":"DejaVu Sans","fontSize":32,"baseline":"middle","dy":7,"color":"black"},"encoding":{"text":{"field":"Amostra","type":"nominal"}}},
 {"data":{"name":"paineis"},"transform":[{"filter":{"field":"Amostra","equal":"1/2/1"}}],"width":132,"height":42,"view":{"fill":"#ffe5cc","stroke":"black","strokeWidth":1.8},"mark":{"type":"text","font":"DejaVu Sans","fontSize":32,"baseline":"middle","dy":7,"color":"black"},"encoding":{"text":{"field":"Amostra","type":"nominal"}}},
 {"data":{"name":"paineis"},"transform":[{"filter":{"field":"Amostra","equal":"1/1/1"}}],"width":132,"height":42,"view":{"fill":"#ffe5cc","stroke":"black","strokeWidth":1.8},"mark":{"type":"text","font":"DejaVu Sans","fontSize":32,"baseline":"middle","dy":7,"color":"black"},"encoding":{"text":{"field":"Amostra","type":"nominal"}}},

 {"width":132,"height":248,"transform":[{"filter":{"field":"Amostra","equal":"1/2/2"}}],
  "layer":[
   {"mark":{"type":"line"},"encoding":{"x":{"field":"Tempo","type":"quantitative","scale":{"domain":[-45,770],"nice":false,"zero":false},"axis":{"orient":"bottom","grid":true,"values":[165,365,565],"ticks":false,"labels":false,"domain":false,"title":null,"gridColor":"#e6e6e6","gridWidth":1.6}},"y":{"field":"Area","type":"quantitative","scale":{"domain":[14.23,21.96],"nice":false,"zero":false},"axis":{"orient":"left","grid":true,"values":[16.15,18.08,20.02],"ticks":false,"labels":false,"domain":false,"title":null,"gridColor":"#e6e6e6","gridWidth":1.6}}}},
   {"mark":{"type":"point"},"encoding":{"x":{"field":"Tempo","type":"quantitative","scale":{"domain":[-45,770],"nice":false,"zero":false},"axis":{"orient":"bottom","values":[0,200,400,600],"labelExpr":"datum.value % 400 === 0 ? datum.label : ''","labelPadding":22,"title":null}},"y":{"field":"Area","type":"quantitative","scale":{"domain":[14.23,21.96],"nice":false,"zero":false},"axis":{"orient":"left","values":[16,18,20],"labelPadding":8,"title":null}}}}
  ],"resolve":{"axis":{"x":"independent","y":"independent"}}},
 {"width":132,"height":248,"transform":[{"filter":{"field":"Amostra","equal":"2/1/2"}}],
  "layer":[
   {"mark":{"type":"line"},"encoding":{"x":{"field":"Tempo","type":"quantitative","scale":{"domain":[-45,770],"nice":false,"zero":false},"axis":{"orient":"bottom","grid":true,"values":[165,365,565],"ticks":false,"labels":false,"domain":false,"title":null,"gridColor":"#e6e6e6","gridWidth":1.6}},"y":{"field":"Area","type":"quantitative","scale":{"domain":[14.23,21.96],"nice":false,"zero":false},"axis":{"orient":"left","grid":true,"values":[16.15,18.08,20.02],"ticks":false,"labels":false,"domain":false,"title":null,"gridColor":"#e6e6e6","gridWidth":1.6}}}},
   {"mark":{"type":"point"},"encoding":{"x":{"field":"Tempo","type":"quantitative","scale":{"domain":[-45,770],"nice":false,"zero":false},"axis":{"orient":"bottom","values":[0,200,400,600],"labels":false,"title":null}},"y":{"field":"Area","type":"quantitative","scale":{"domain":[14.23,21.96],"nice":false,"zero":false},"axis":null}}}
  ],"resolve":{"axis":{"x":"independent","y":"independent"}}},
 {"width":132,"height":248,"transform":[{"filter":{"field":"Amostra","equal":"1/2/-1"}}],
  "layer":[
   {"mark":{"type":"line"},"encoding":{"x":{"field":"Tempo","type":"quantitative","scale":{"domain":[-45,770],"nice":false,"zero":false},"axis":{"orient":"bottom","grid":true,"values":[165,365,565],"ticks":false,"labels":false,"domain":false,"title":null,"gridColor":"#e6e6e6","gridWidth":1.6}},"y":{"field":"Area","type":"quantitative","scale":{"domain":[14.23,21.96],"nice":false,"zero":false},"axis":{"orient":"left","grid":true,"values":[16.15,18.08,20.02],"ticks":false,"labels":false,"domain":false,"title":null,"gridColor":"#e6e6e6","gridWidth":1.6}}}},
   {"mark":{"type":"point"},"encoding":{"x":{"field":"Tempo","type":"quantitative","scale":{"domain":[-45,770],"nice":false,"zero":false},"axis":{"orient":"bottom","values":[0,200,400,600],"labelExpr":"datum.value % 400 === 0 ? datum.label : ''","labelPadding":22,"title":"Tempo de Secagem (min)","titleFontSize":33,"titlePadding":22}},"y":{"field":"Area","type":"quantitative","scale":{"domain":[14.23,21.96],"nice":false,"zero":false},"axis":null}}}
  ],"resolve":{"axis":{"x":"independent","y":"independent"}}},
 {"width":132,"height":248,"transform":[{"filter":{"field":"Amostra","equal":"1/2/1"}}],
  "layer":[
   {"mark":{"type":"line"},"encoding":{"x":{"field":"Tempo","type":"quantitative","scale":{"domain":[-45,770],"nice":false,"zero":false},"axis":{"orient":"bottom","grid":true,"values":[165,365,565],"ticks":false,"labels":false,"domain":false,"title":null,"gridColor":"#e6e6e6","gridWidth":1.6}},"y":{"field":"Area","type":"quantitative","scale":{"domain":[14.23,21.96],"nice":false,"zero":false},"axis":{"orient":"left","grid":true,"values":[16.15,18.08,20.02],"ticks":false,"labels":false,"domain":false,"title":null,"gridColor":"#e6e6e6","gridWidth":1.6}}}},
   {"mark":{"type":"point"},"encoding":{"x":{"field":"Tempo","type":"quantitative","scale":{"domain":[-45,770],"nice":false,"zero":false},"axis":{"orient":"bottom","values":[0,200,400,600],"labels":false,"title":null}},"y":{"field":"Area","type":"quantitative","scale":{"domain":[14.23,21.96],"nice":false,"zero":false},"axis":null}}}
  ],"resolve":{"axis":{"x":"independent","y":"independent"}}},
 {"width":132,"height":248,"transform":[{"filter":{"field":"Amostra","equal":"1/1/1"}}],
  "layer":[
   {"mark":{"type":"line"},"encoding":{"x":{"field":"Tempo","type":"quantitative","scale":{"domain":[-45,770],"nice":false,"zero":false},"axis":{"orient":"bottom","grid":true,"values":[165,365,565],"ticks":false,"labels":false,"domain":false,"title":null,"gridColor":"#e6e6e6","gridWidth":1.6}},"y":{"field":"Area","type":"quantitative","scale":{"domain":[14.23,21.96],"nice":false,"zero":false},"axis":{"orient":"left","grid":true,"values":[16.15,18.08,20.02],"ticks":false,"labels":false,"domain":false,"title":null,"gridColor":"#e6e6e6","gridWidth":1.6}}}},
   {"mark":{"type":"point"},"encoding":{"x":{"field":"Tempo","type":"quantitative","scale":{"domain":[-45,770],"nice":false,"zero":false},"axis":{"orient":"bottom","values":[0,200,400,600],"labelExpr":"datum.value % 400 === 0 ? datum.label : ''","labelPadding":22,"title":null}},"y":{"field":"Area","type":"quantitative","scale":{"domain":[14.23,21.96],"nice":false,"zero":false},"axis":{"orient":"right","values":[16,18,20],"labels":false,"title":null}}}}
  ],"resolve":{"axis":{"x":"independent","y":"independent"}}}
]
}
